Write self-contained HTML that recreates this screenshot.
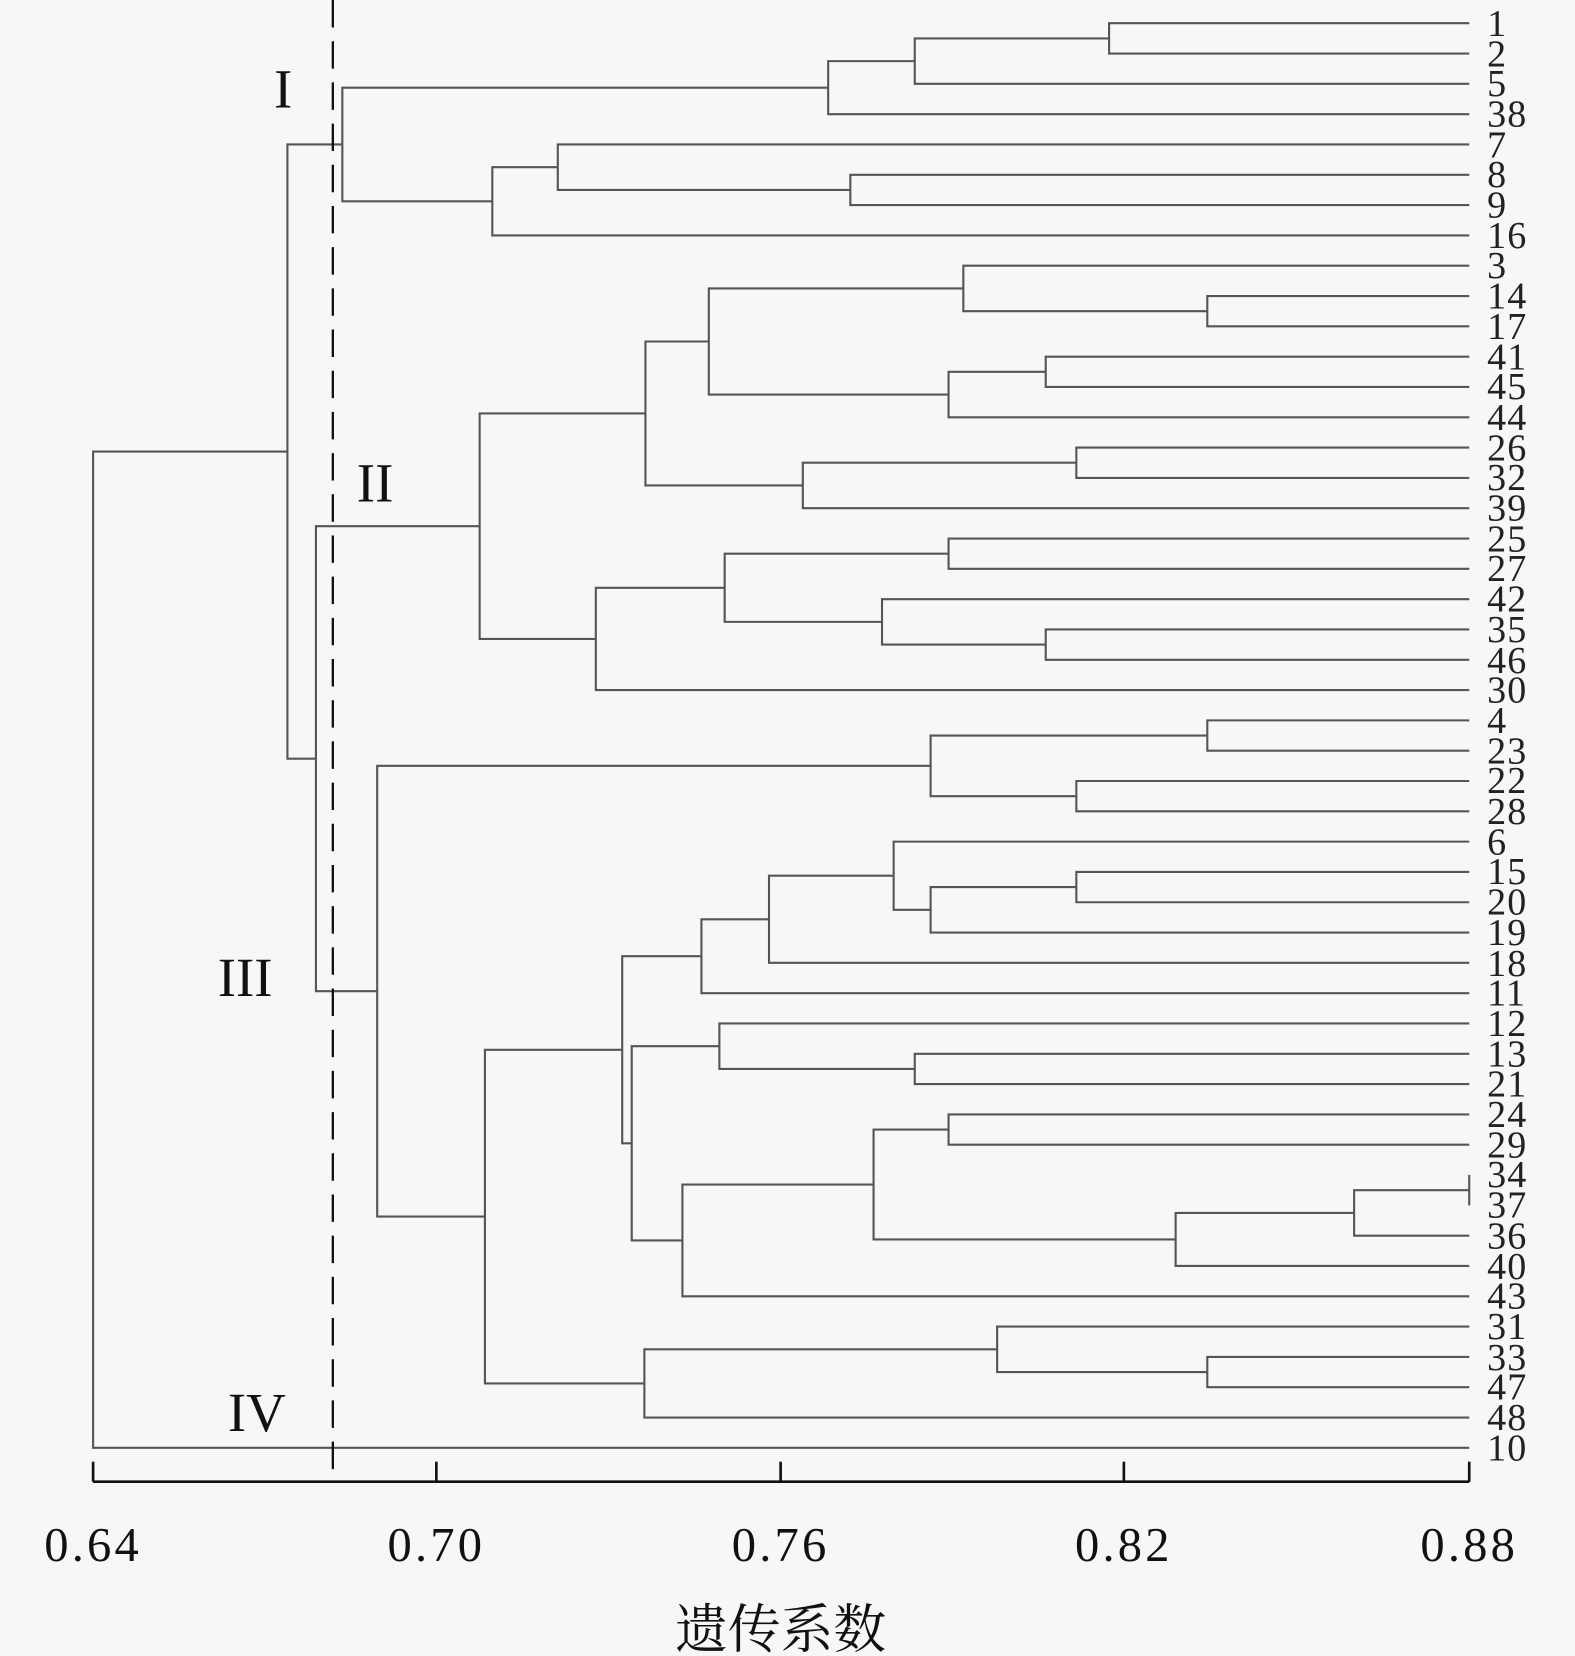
<!DOCTYPE html>
<html><head><meta charset="utf-8"><style>
html,body{margin:0;padding:0;background:#f7f7f7;}
svg{display:block;}
</style></head><body>
<svg width="1575" height="1656" viewBox="0 0 1491 1568" xmlns="http://www.w3.org/2000/svg">
<rect width="1491" height="1568" fill="#f7f7f7"/>
<g stroke="#555" stroke-width="2" fill="none">
<path id="tree" d=""/>
</g>
<g font-family="Liberation Serif, serif" font-size="36" fill="#222" letter-spacing="1">
<text x="1408" y="34">1</text>
<text x="1408" y="63">2</text>
<text x="1408" y="91">5</text>
<text x="1408" y="120">38</text>
<text x="1408" y="149">7</text>
<text x="1408" y="177">8</text>
<text x="1408" y="206">9</text>
<text x="1408" y="235">16</text>
<text x="1408" y="263">3</text>
<text x="1408" y="292">14</text>
<text x="1408" y="321">17</text>
<text x="1408" y="350">41</text>
<text x="1408" y="378">45</text>
<text x="1408" y="407">44</text>
<text x="1408" y="436">26</text>
<text x="1408" y="464">32</text>
<text x="1408" y="493">39</text>
<text x="1408" y="522">25</text>
<text x="1408" y="550">27</text>
<text x="1408" y="579">42</text>
<text x="1408" y="608">35</text>
<text x="1408" y="637">46</text>
<text x="1408" y="665">30</text>
<text x="1408" y="694">4</text>
<text x="1408" y="723">23</text>
<text x="1408" y="751">22</text>
<text x="1408" y="780">28</text>
<text x="1408" y="809">6</text>
<text x="1408" y="837">15</text>
<text x="1408" y="866">20</text>
<text x="1408" y="895">19</text>
<text x="1408" y="924">18</text>
<text x="1408" y="952">11</text>
<text x="1408" y="981">12</text>
<text x="1408" y="1010">13</text>
<text x="1408" y="1038">21</text>
<text x="1408" y="1067">24</text>
<text x="1408" y="1096">29</text>
<text x="1408" y="1124">34</text>
<text x="1408" y="1153">37</text>
<text x="1408" y="1182">36</text>
<text x="1408" y="1211">40</text>
<text x="1408" y="1239">43</text>
<text x="1408" y="1268">31</text>
<text x="1408" y="1297">33</text>
<text x="1408" y="1325">47</text>
<text x="1408" y="1354">48</text>
<text x="1408" y="1383">10</text>
</g>
<line x1="315" y1="0" x2="315" y2="1403" stroke="#111" stroke-width="2.2" stroke-dasharray="26,13"/>
<g stroke="#111" stroke-width="2.5">
<line x1="88" y1="1403" x2="1391" y2="1403"/>
<line x1="88" y1="1384" x2="88" y2="1403"/>
<line x1="413" y1="1384" x2="413" y2="1403"/>
<line x1="739" y1="1384" x2="739" y2="1403"/>
<line x1="1064" y1="1384" x2="1064" y2="1403"/>
<line x1="1391" y1="1384" x2="1391" y2="1403"/>
</g>
<g font-family="Liberation Serif, serif" font-size="46" fill="#111" text-anchor="middle" letter-spacing="3">
<text x="88" y="1478">0.64</text>
<text x="413" y="1478">0.70</text>
<text x="739" y="1478">0.76</text>
<text x="1064" y="1478">0.82</text>
<text x="1391" y="1478">0.88</text>
<text x="739" y="1560" font-family="Liberation Serif, 'Noto Serif CJK SC', serif" font-size="50" letter-spacing="0">遗传系数</text>
</g>
<g font-family="Liberation Serif, serif" font-size="52" fill="#111" text-anchor="middle">
<text x="268" y="102">I</text>
<text x="355" y="475">II</text>
<text x="232" y="943">III</text>
<text x="243" y="1355">IV</text>
</g>
<script>
var leaves=[1,2,5,38,7,8,9,16,3,14,17,41,45,44,26,32,39,25,27,42,35,46,30,4,23,22,28,6,15,20,19,18,11,12,13,21,24,29,34,37,36,40,43,31,33,47,48,10];
var Y={},X={};var R=1391;leaves.forEach(function(l,i){Y['L'+l]=22+i*28.7;X['L'+l]=R;});
var d='';var n=0;
function J(a,b,x){var id='N'+(n++);var ya=Y[a],yb=Y[b];
d+='M'+X[a]+' '+ya+'H'+x+'V'+yb+'H'+X[b];
Y[id]=(ya+yb)/2;X[id]=x;return id;}
var a=J('L1','L2',1050);a=J(a,'L5',866);a=J(a,'L38',784);
var b=J('L8','L9',805);b=J('L7',b,528);b=J(b,'L16',466);
var I=J(a,b,324);
var c=J('L14','L17',1143);c=J('L3',c,912);
var e=J('L41','L45',990);e=J(e,'L44',898);
var f=J(c,e,671);
var g=J('L26','L32',1019);g=J(g,'L39',760);
f=J(f,g,611);
var h=J('L25','L27',898);
var k=J('L35','L46',990);k=J('L42',k,835);
h=J(h,k,686);h=J(h,'L30',564);
var II=J(f,h,454);
var m=J('L4','L23',1143);var m2=J('L22','L28',1019);m=J(m,m2,881);
var p=J('L15','L20',1019);p=J(p,'L19',881);p=J('L6',p,846);p=J(p,'L18',728);p=J(p,'L11',664);
var q=J('L13','L21',866);q=J('L12',q,681);
var r=J('L24','L29',898);
var s=J('L34','L37',1391);s=J(s,'L36',1282);s=J(s,'L40',1113);
r=J(r,s,827);r=J(r,'L43',646);
q=J(q,r,598);p=J(p,q,589);
var t=J('L33','L47',1143);t=J('L31',t,944);t=J(t,'L48',610);
p=J(p,t,459);
var III=J(m,p,357);
var z=J(II,III,299);
z=J(I,z,272);
z=J(z,'L10',88);
document.getElementById('tree').setAttribute('d',d);
</script>
</svg>
</body></html>
